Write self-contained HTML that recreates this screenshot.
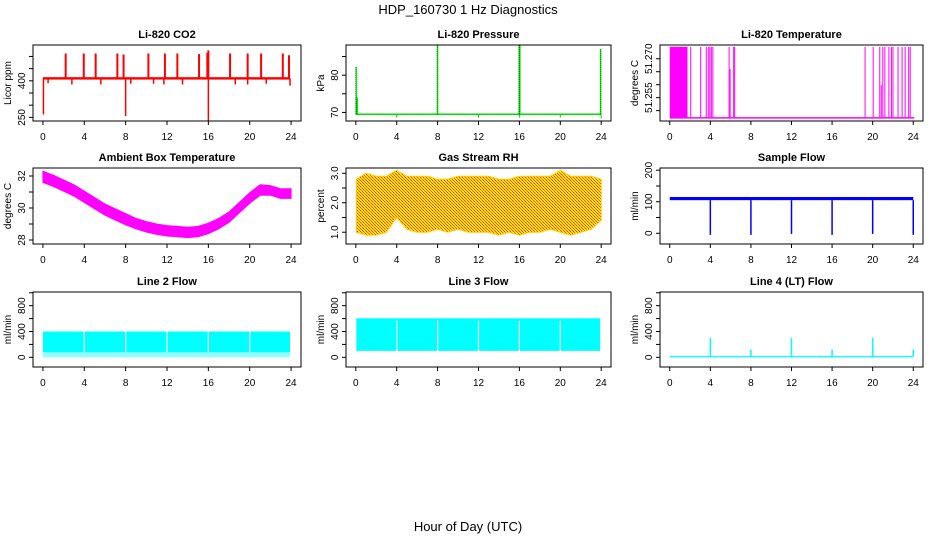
<!DOCTYPE html>
<html><head><meta charset="utf-8"><style>
html,body{margin:0;padding:0;background:#fff;}
svg{display:block;font-family:"Liberation Sans",sans-serif;}
</style></head><body>
<svg id="chart" width="936" height="540" viewBox="0 0 936 540" xmlns="http://www.w3.org/2000/svg">
<defs>
<pattern id="rhpat" width="3" height="3" patternUnits="userSpaceOnUse">
<rect width="3" height="3" fill="#ffee00"/><rect x="0" y="0" width="1" height="1" fill="#ff2000"/><rect x="2" y="2" width="1" height="1" fill="#ff4000"/><rect x="1" y="1" width="1" height="1" fill="#ff6000"/>
</pattern>
</defs>
<text x="468" y="14" font-size="13" text-anchor="middle">HDP_160730 1 Hz Diagnostics</text>
<text x="468" y="531" font-size="13" text-anchor="middle">Hour of Day (UTC)</text>
<g id="panels"></g>
</svg>
<script>
// ---- data arrays ----
const xTicks = [0,4,8,12,16,20,24];
// CO2
const co2Base = 410;
const co2UpHours = [2.2,3.95,5.1,7.2,7.8,10.2,11.8,13.0,15.1,15.9,16.0,18.1,19.8,21.1,23.2,23.8];
const co2UpVals  = [512,512,512,512,508,512,512,512,510,515,525,512,512,512,512,505];
const co2DnHours = [0.05,0.5,2.8,5.6,8.0,8.5,10.7,11.7,13.5,16.0,18.6,19.8,21.6,23.9];
const co2DnVals  = [262,390,385,385,255,388,388,385,385,235,385,385,388,380];
// Pressure
const presBase = 69.5;
const presSpikeHours = [0.05,0.15,8.0,16.0,16.05,23.95];
const presSpikeVals  = [82.2,74,88,88,88,87];
const presDipHours = [4,12,16,20,24];
const presDipVals = [68.6,68.6,68.6,68.6,68.4];
// Li-820 temperature
const tempLow = 51.2472;
const tempHigh = 51.2746;
const tempBlock = [0.0,1.75];
const tempLineHours = [2.07,3.05,3.6,3.8,3.95,4.1,4.25,5.85,5.95,6.3,6.4,19.25,20.05,20.7,20.85,21.0,21.2,21.6,21.85,22.0,22.5,22.9,23.2,23.55,23.7];
const tempLineVals  = [51.2746,51.2746,51.2746,51.2746,51.2746,51.2746,51.2746,51.2746,51.266,51.2746,51.2746,51.2746,51.2746,51.2746,51.260,51.2746,51.2746,51.2746,51.2746,51.2746,51.2746,51.2746,51.2746,51.2746,51.2746];
// Ambient box temperature (hourly envelope)
const ambHours = [0,1,2,3,4,5,6,7,8,9,10,11,12,13,14,15,16,17,18,19,20,21,22,23,24];
const ambLow  = [31.6,31.35,31.05,30.75,30.35,29.95,29.55,29.25,28.95,28.7,28.5,28.35,28.25,28.2,28.15,28.2,28.4,28.7,29.1,29.7,30.3,30.8,30.8,30.6,30.6];
const ambHigh = [32.3,32.05,31.75,31.45,31.05,30.65,30.25,29.95,29.65,29.35,29.15,29.0,28.9,28.85,28.8,28.85,29.05,29.35,29.75,30.35,30.95,31.45,31.4,31.2,31.2];
// Gas stream RH envelope
const rhHours = [0.05,1,2,3,4,5,6,7,8,9,10,11,12,13,14,15,16,17,18,19,20,21,22,23,24];
const rhLow  = [1.0,0.9,0.9,1.0,1.5,1.1,1.0,1.0,1.1,1.0,1.1,1.0,1.0,1.0,0.9,1.0,0.9,1.0,1.0,1.1,1.0,0.9,1.0,1.1,1.4];
const rhHigh = [2.8,3.0,2.9,2.9,3.1,2.9,2.9,2.9,2.8,2.8,2.9,2.9,2.9,2.9,2.8,2.8,2.9,2.9,2.9,2.9,3.1,2.9,2.9,2.9,2.8];
// Sample flow
const sfLow = 105, sfHigh = 115;
const sfDipHours = [4,8,12,16,20,24];
const sfDipVals = [-5,-5,-2,-5,-2,-5];
// Line 2 flow
const l2Low = 80, l2High = 400;
const l2GapHours = [4,8,12,16,20];
const l2End = 23.9;
// Line 3 flow
const l3Low = 100, l3High = 605;
const l3GapHours = [4,8,12,16,20];
const l3End = 23.9;
// Line 4 flow
const l4Base = 10;
const l4SpikeHours = [4,8,12,16,20,24];
const l4SpikeVals = [300,120,300,120,300,120];

// ---- layout ----
const colL = [33,346,660], colR = [301,611,923];
const rowT = [45,168,292], rowB = [121,244,367];
const NS = 'http://www.w3.org/2000/svg';
const root = document.getElementById('panels');
function mk(tag, attrs, parent){const e=document.createElementNS(NS,tag);for(const k in attrs)e.setAttribute(k,attrs[k]);(parent||root).appendChild(e);return e;}

function panel(c, r, title, ytitle, ylim, yticks, ylabels, name){
  const L=colL[c],R=colR[c],T=rowT[r],B=rowB[r];
  const g = mk('g',{});
  
  
  const xs = h => L + (h+0.96)/25.92*(R-L);
  const ys = v => B - (v-ylim[0])/(ylim[1]-ylim[0])*(B-T);
  const t = mk('text',{x:(L+R)/2,y:T-7,'font-size':11,'font-weight':'bold','text-anchor':'middle'},g);
  t.textContent = title;
  
  
  const yt = mk('text',{x:0,y:0,'font-size':10,'text-anchor':'middle',transform:`translate(${L-22},${(T+B)/2}) rotate(-90)`},g);
  yt.textContent = ytitle;
  
  
  const plot = mk('g',{},g);
  
  
  const box = mk('rect',{x:L,y:T,width:R-L,height:B-T,fill:'none',stroke:'#000','stroke-width':1},g);
  
  
  const xa = mk('g',{stroke:'#000'},g);
  
  
  xTicks.forEach(h=>{
    mk('line',{x1:xs(h),x2:xs(h),y1:B,y2:B+4},xa);
    const tl = mk('text',{x:xs(h),y:B+19,'font-size':10,'text-anchor':'middle',stroke:'none'},xa);
    tl.textContent = h;
  });
  const ya = mk('g',{stroke:'#000'},g);
  
  
  yticks.forEach((v,i)=>{
    mk('line',{x1:L-4,x2:L,y1:ys(v),y2:ys(v)},ya);
    if(ylabels[i]){
      const tl = mk('text',{x:0,y:0,'font-size':10,'text-anchor':'middle',stroke:'none',transform:`translate(${L-8},${ys(v)}) rotate(-90)`},ya);
      tl.textContent = ylabels[i];
    }
  });
  return {xs,ys,plot};
}
function vline(p,h,v0,v1,col,w){return mk('line',{x1:p.xs(h),x2:p.xs(h),y1:p.ys(v0),y2:p.ys(v1),stroke:col,'stroke-width':w||1},p.plot);}
function band(p,hs,lo,hi,fill,stroke){
  let d='M'+hs.map((h,i)=>p.xs(h)+','+p.ys(hi[i])).join('L');
  for(let i=hs.length-1;i>=0;i--) d+='L'+p.xs(hs[i])+','+p.ys(lo[i]);
  return mk('path',{d:d+'Z',fill:fill,stroke:stroke||'none'},p.plot);
}
function rect(p,h0,h1,v0,v1,fill){return mk('rect',{x:p.xs(h0),y:p.ys(v1),width:p.xs(h1)-p.xs(h0),height:p.ys(v0)-p.ys(v1),fill:fill},p.plot);}

// CO2
let p = panel(0,0,'Li-820 CO2','Licor ppm',[235,547],[250,300,350,400,450,500],['250','','','400','',''],'co2');
rect(p,0,23.9,co2Base-5,co2Base+5,'#ff0000');
co2UpHours.forEach((h,i)=>{vline(p,h,co2Base,co2UpVals[i],'#ff0000',2);});
co2DnHours.forEach((h,i)=>{vline(p,h,co2Base,co2DnVals[i],'#ff0000',1.5);});
// Pressure
p = panel(1,0,'Li-820 Pressure','kPa',[67.7,88.1],[70,75,80,85],['70','','80',''],'pressure');
vline(p,0.05,presBase,presBase,'#00ff00');
mk('line',{x1:p.xs(0),x2:p.xs(24),y1:p.ys(presBase),y2:p.ys(presBase),stroke:'#00dd00','stroke-width':1.5},p.plot);
presSpikeHours.forEach((h,i)=>{vline(p,h,presBase,presSpikeVals[i],'#00ff00',1.5);mk('line',{x1:p.xs(h)-0.5,x2:p.xs(h)-0.5,y1:p.ys(presBase),y2:p.ys(presSpikeVals[i]),stroke:'#000','stroke-width':0.6,'stroke-dasharray':'1,1'},p.plot);});
presDipHours.forEach((h,i)=>{vline(p,h,presBase,presDipVals[i],'#00cc00',1);});
// Li-820 Temperature
p = panel(2,0,'Li-820 Temperature','degrees C',[51.246,51.2753],[51.250,51.255,51.260,51.265,51.270],['','51.255','','','51.270'],'li820-temperature');
mk('line',{x1:p.xs(0),x2:p.xs(24.1),y1:p.ys(tempLow),y2:p.ys(tempLow),stroke:'#ff00ff','stroke-width':1.5},p.plot);
rect(p,tempBlock[0],tempBlock[1],tempLow,tempHigh,'#ff00ff');
tempLineHours.forEach((h,i)=>{vline(p,h,tempLow,tempLineVals[i],'#ff00ff',1);});
// Ambient
p = panel(0,1,'Ambient Box Temperature','degrees C',[27.75,32.5],[28,29,30,31,32],['28','','30','','32'],'ambient-temperature');
band(p,ambHours,ambLow,ambHigh,'#ff00ff','#ff00ff');
// RH
p = panel(1,1,'Gas Stream RH','percent',[0.6,3.18],[1.0,1.5,2.0,2.5,3.0],['1.0','','2.0','','3.0'],'gas-stream-rh');
band(p,rhHours,rhLow,rhHigh,'url(#rhpat)','#ffcc00');
// Sample flow
p = panel(2,1,'Sample Flow','ml/min',[-34,207],[0,50,100,150,200],['0','','100','','200'],'sample-flow');
rect(p,0,24,sfLow,sfHigh,'#0000ff');
sfDipHours.forEach((h,i)=>{vline(p,h,sfLow,sfDipVals[i],'#0000ff',1.5);});
// Line 2
p = panel(0,2,'Line 2 Flow','ml/min',[-150,1012],[0,200,400,600,800,1000],['0','','400','','800',''],'line2-flow');
rect(p,0,l2End,0,l2Low,'rgba(0,255,255,0.45)');
rect(p,0,l2End,l2Low,l2High,'#00ffff');
l2GapHours.forEach(h=>{vline(p,h,l2Low,l2High,'#fff',1.2);});
// Line 3
p = panel(1,2,'Line 3 Flow','ml/min',[-150,1012],[0,200,400,600,800,1000],['0','','400','','800',''],'line3-flow');
rect(p,0.05,l3End,l3Low,l3High,'#00ffff');
l3GapHours.forEach(h=>{vline(p,h,l3Low,l3High-40,'#fff',1.2);});
// Line 4
p = panel(2,2,'Line 4 (LT) Flow','ml/min',[-150,1012],[0,200,400,600,800,1000],['0','','400','','800',''],'line4-flow');
rect(p,0,24,0,l4Base+10,'#00ffff');
l4SpikeHours.forEach((h,i)=>{vline(p,h,l4Base,l4SpikeVals[i],'#00ffff',1.5);});
</script>
</body></html>
